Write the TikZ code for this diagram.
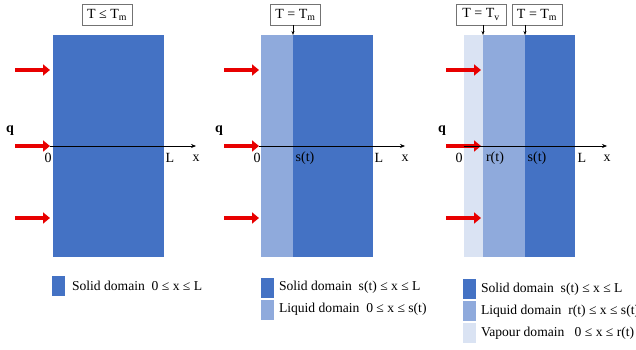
\documentclass[tikz,border=0pt]{standalone}
\usepackage{fontspec}
\setmainfont{Liberation Serif}
\usetikzlibrary{arrows.meta}
\definecolor{solidblue}{HTML}{4472C4}
\definecolor{liquidblue}{HTML}{8FAADC}
\definecolor{vapourblue}{HTML}{DAE3F3}
\definecolor{heatred}{HTML}{E80000}

\begin{document}
\begin{tikzpicture}[x=1pt,y=-1pt,
  every node/.style={font=\fontsize{14}{16}\selectfont, inner sep=0pt, outer sep=0pt},
  tempbox/.style={draw=black!55, fill=white, minimum width=50pt, minimum height=21pt},
  heat/.style={draw=heatred, line width=4pt, -{Triangle[length=7pt,width=11pt]}},
  axis/.style={draw=black, line width=0.6pt, -{Stealth[length=5pt,width=4pt]}},
  pin/.style={draw=black, line width=0.5pt, -{Stealth[length=4pt,width=3pt]}},
  key/.style={minimum width=13pt, minimum height=20pt},
  keytext/.style={anchor=west, font=\fontsize{13.6}{15}\selectfont}]
\useasboundingbox (0,0) rectangle (636,350);

% panel 1
\fill[solidblue] (53,35) rectangle (164,257);
\node[tempbox] (tA) at (107,14.5) {T ≤ T\textsubscript{m}};
\foreach \y [count=\i] in {70,146,218} {
  \coordinate (qA\i) at (15,\y);
  \coordinate (bA\i) at (50,\y);
  \draw[heat] (qA\i) -- (bA\i);
}
\node (oA) at (48,158) {0};
\node (xA) at (196,158) {x};
\draw[axis] (bA2) -- (xA.north |- bA2);
\node (lA) at (170,158) {L};
\node (qA) at (10,131) {\textbf{q}};
\node[key, fill=solidblue] (kA) at (58.5,286) {};
\node[keytext] (kAt) at (72,286) {Solid domain\ \ 0 ≤ x ≤ L};

% panel 2
\fill[liquidblue] (261,35) rectangle (293,257);
\fill[solidblue] (293,35) rectangle (373,257);
\node[tempbox] (tB) at (295.5,14.5) {T = T\textsubscript{m}};
\coordinate (sB) at (293,35);
\draw[pin] (tB.south -| sB) -- (sB);
\foreach \y [count=\i] in {70,146,218} {
  \coordinate (qB\i) at (224,\y);
  \coordinate (bB\i) at (259,\y);
  \draw[heat] (qB\i) -- (bB\i);
}
\node (oB) at (257,158) {0};
\node (xB) at (405,158) {x};
\draw[axis] (bB2) -- (xB.north |- bB2);
\node (stB) at (305,158) {s(t)};
\node (lB) at (379,158) {L};
\node (qB) at (219,131) {\textbf{q}};
\node[key, fill=solidblue] (kB1) at (267,287.5) {};
\node[key, fill=liquidblue] (kB2) at (267,309.5) {};
\node[keytext] (kB1t) at (279,287.5) {Solid domain\ \ s(t) ≤ x ≤ L};
\node[keytext] (kB2t) at (279,309.5) {Liquid domain\ \ 0 ≤ x ≤ s(t)};

% panel 3
\fill[vapourblue] (464,35) rectangle (483,257);
\fill[liquidblue] (483,35) rectangle (525,257);
\fill[solidblue] (525,35) rectangle (575,257);
\node[tempbox] (tCv) at (481,14.5) {T = T\textsubscript{v}};
\node[tempbox] (tCm) at (537,14.5) {T = T\textsubscript{m}};
\coordinate (rC) at (483,35);
\coordinate (sC) at (525,35);
\draw[pin] (tCv.south -| rC) -- (rC);
\draw[pin] (tCm.south -| sC) -- (sC);
\foreach \y [count=\i] in {70,146,218} {
  \coordinate (qC\i) at (446,\y);
  \coordinate (bC\i) at (481,\y);
  \draw[heat] (qC\i) -- (bC\i);
}
\coordinate (aC) at (464,146);
\node (oC) at (459,158) {0};
\node (xC) at (607,158) {x};
\draw[axis] (aC) -- (xC.north |- aC);
\node (rtC) at (495,158) {r(t)};
\node (stC) at (537,158) {s(t)};
\node (lC) at (582,158) {L};
\node (qC) at (442,131) {\textbf{q}};
\node[key, fill=solidblue] (kC1) at (469.5,289) {};
\node[key, fill=liquidblue] (kC2) at (469.5,311) {};
\node[key, fill=vapourblue] (kC3) at (469.5,333) {};
\node[keytext] (kC1t) at (481,289) {Solid domain\ \ s(t) ≤ x ≤ L};
\node[keytext] (kC2t) at (481,311) {Liquid domain\ \ r(t) ≤ x ≤ s(t)};
\node[keytext] (kC3t) at (481,333) {Vapour domain\ \ \ 0 ≤ x ≤ r(t)};
\end{tikzpicture}
\end{document}
